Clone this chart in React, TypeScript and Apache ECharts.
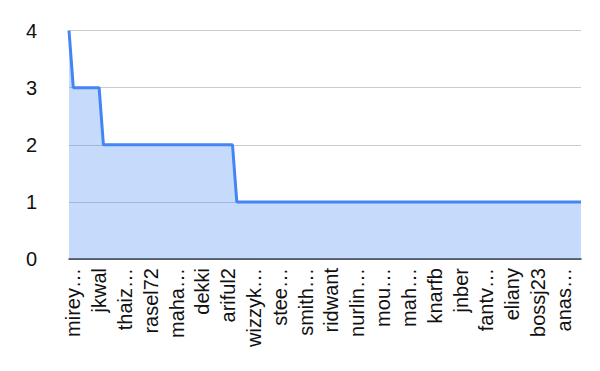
import React, { useEffect, useRef } from "react";
import * as echarts from "echarts";

// Labels visible on the x axis (every 6th category, starting at index 1)
const shownLabels: string[] = [
  "mirey…", "jkwal", "thaiz…", "rasel72", "maha…", "dekki", "ariful2",
  "wizzyk…", "stee…", "smith…", "ridwant", "nurlin…", "mou…", "mah…",
  "knarfb", "jnber", "fantv…", "eliany", "bossj23", "anas…",
];

// Series values (120 points)
const values: number[] = [
  4, 3, 3, 3, 3, 3, 3, 3, 2, 2, 2, 2, 2, 2, 2, 2, 2, 2, 2, 2,
  2, 2, 2, 2, 2, 2, 2, 2, 2, 2, 2, 2, 2, 2, 2, 2, 2, 2, 2, 1,
  1, 1, 1, 1, 1, 1, 1, 1, 1, 1, 1, 1, 1, 1, 1, 1, 1, 1, 1, 1,
  1, 1, 1, 1, 1, 1, 1, 1, 1, 1, 1, 1, 1, 1, 1, 1, 1, 1, 1, 1,
  1, 1, 1, 1, 1, 1, 1, 1, 1, 1, 1, 1, 1, 1, 1, 1, 1, 1, 1, 1,
  1, 1, 1, 1, 1, 1, 1, 1, 1, 1, 1, 1, 1, 1, 1, 1, 1, 1, 1, 1,
];

const yTicks: number[] = [0, 1, 2, 3, 4];

const categories: string[] = values.map((_, i) =>
  i % 6 === 1 ? shownLabels[(i - 1) / 6] : `user${i}`
);

const FONT = "'Liberation Sans', Arial, sans-serif";

export default function App() {
  const ref = useRef<HTMLDivElement>(null);
  useEffect(() => {
    if (!ref.current) return;
    const chart = echarts.init(ref.current, null, { renderer: "svg" });
    chart.setOption({
      animation: false,
      backgroundColor: "#ffffff",
      grid: { left: 69, right: 19, top: 30.5, bottom: 112, containLabel: false },
      xAxis: {
        type: "category",
        data: categories,
        boundaryGap: false,
        axisTick: { show: false },
        axisLine: { show: true, lineStyle: { color: "#333333", width: 1.5 } },
        axisLabel: {
          rotate: 90,
          interval: (index: number) => index % 6 === 1,
          margin: 9,
          fontSize: 20,
          color: "#111111",
          fontFamily: FONT,
        },
        splitLine: { show: false },
      },
      yAxis: {
        type: "value",
        min: yTicks[0],
        max: yTicks[yTicks.length - 1],
        interval: 1,
        axisLine: { show: false },
        axisTick: { show: false },
        axisLabel: {
          margin: 32,
          fontSize: 20,
          color: "#111111",
          fontFamily: FONT,
        },
        splitLine: { lineStyle: { color: "#cccccc", width: 1 } },
      },
      series: [
        {
          type: "line",
          data: values,
          showSymbol: false,
          symbol: "none",
          lineStyle: { color: "#4285f4", width: 3 },
          itemStyle: { color: "#4285f4" },
          areaStyle: { color: "#4285f4", opacity: 0.3 },
        },
      ],
    });
    return () => chart.dispose();
  }, []);
  return (
    <div
      ref={ref}
      style={{ position: "fixed", left: 0, top: 0, width: 600, height: 371 }}
    />
  );
}
